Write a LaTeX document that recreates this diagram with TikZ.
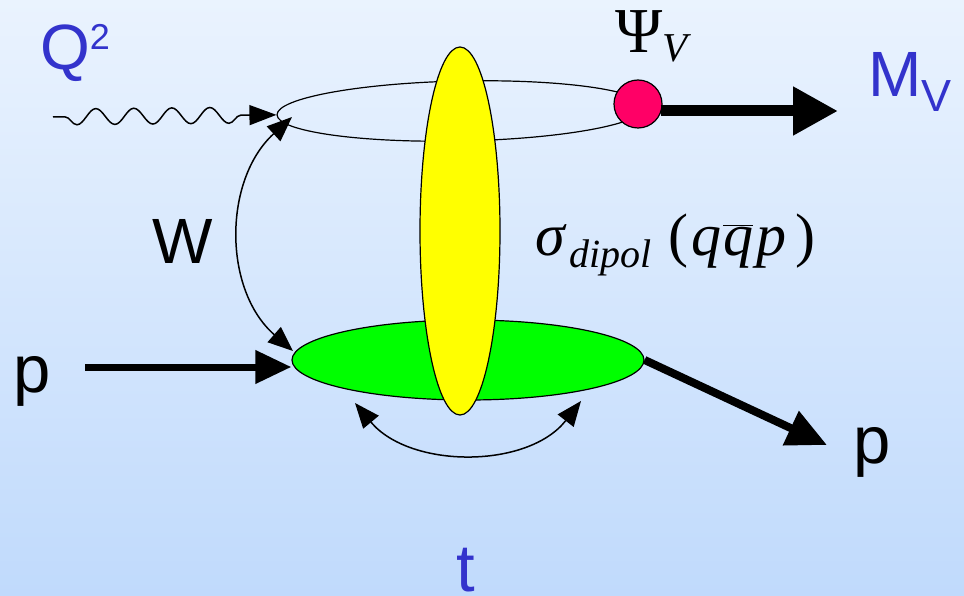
\documentclass[tikz,border=0pt]{standalone}
\usepackage{fontspec}
\setmainfont{Liberation Serif}
\newfontfamily\arialfont{Liberation Sans}
\usetikzlibrary{arrows.meta,positioning,shapes.geometric,decorations.pathmorphing}
\definecolor{labelblue}{RGB}{51,51,204}
\definecolor{dipoleyellow}{RGB}{255,255,0}
\definecolor{protongreen}{RGB}{0,255,0}
\definecolor{mesonred}{RGB}{255,0,102}
\definecolor{bgtop}{RGB}{234,243,254}
\definecolor{bgbottom}{RGB}{192,218,252}
\tikzset{
	>=Triangle,
	blob/.style={
		ellipse,
		draw,
		line width=1.2pt,
		inner sep=0pt
	},
	thinarrow/.style={
		-{Triangle[length=27pt,width=20pt]},
		line width=1.5pt
	},
	thinboth/.style={
		{Triangle[length=25pt,width=20pt]}-{Triangle[length=25pt,width=20pt]},
		line width=1.5pt
	},
	thickarrow/.style={
		-{Triangle[length=36pt,width=32pt]},
		line width=7pt
	},
	sanslabel/.style={
		font=\arialfont\fontsize{64}{64}\selectfont,
		inner sep=0pt,
		anchor=base west
	},
	seriflabel/.style={
		inner sep=0pt,
		anchor=base west
	}
}

\begin{document}
\begin{tikzpicture}[x=1pt,y=-1pt]
	
	\useasboundingbox (0,0) rectangle (964,596);
	\shade[top color=bgtop,bottom color=bgbottom] (0,0) rectangle (964,596);
	
	% Dipole loop, proton and dipole cross section
	\node[blob,rotate=1.2,minimum width=368pt,minimum height=60pt] (loop) at (461,111) {};
	\node[blob,fill=protongreen,minimum width=352pt,minimum height=80pt] (proton) at (468,360) {};
	\node[blob,fill=dipoleyellow,minimum width=80pt,minimum height=368pt] (dipole) at (460,231) {};
	\node[circle,draw,line width=1.2pt,fill=mesonred,minimum size=48pt,inner sep=0pt] (dot) at (638,104) {};
	
	% Free ends
	\coordinate (gammain) at (53,117);
	\coordinate (wtop) at (292,117);
	\coordinate (wbot) at (293,351);
	\coordinate (pstart) at (85,367);
	\coordinate (pend) at (827,445);
	\coordinate (mvtip) at (838,111);
	\coordinate (tleft) at (355,403);
	\coordinate (tright) at (581,401);
	
	% Photon
	\draw[thinarrow,decorate,decoration={snake,mirror,segment length=38pt,amplitude=8pt,pre length=12pt,post length=28pt}] (gammain) -- (loop.west);
	
	% W and t
	\draw[thinboth] (wtop) .. controls (223,180) and (223,290) .. (wbot);
	\draw[thinboth] (tleft) .. controls (410,469) and (528,469) .. (tright);
	
	% Protons and vector meson
	\draw[thickarrow] (pstart) -- (proton.west |- pstart);
	\draw[thickarrow,line width=8pt,-{Triangle[length=40pt,width=36pt]}] (proton.east) -- (pend);
	\draw[line width=11pt,-{Triangle[length=45pt,width=46pt]}] ([xshift=-2pt,yshift=-7pt]dot.east) -- (mvtip);
	
	% Labels
	\node[sanslabel,text=labelblue] (qsq) at (40,70) {Q\raisebox{20pt}{\fontsize{36}{36}\selectfont 2}};
	\node[sanslabel,text=labelblue] (mv) at (868,97) {M\raisebox{-15pt}{\fontsize{45}{45}\selectfont V}};
	\node[sanslabel] (wlab) at (152,263) {W};
	\node[sanslabel,font=\arialfont\fontsize{67}{67}\selectfont] (pin) at (13,392) {p};
	\node[sanslabel,font=\arialfont\fontsize{67}{67}\selectfont] (pout) at (853,463) {p};
	\node[sanslabel,text=labelblue,font=\arialfont\fontsize{67}{67}\selectfont] (tlab) at (456,591) {t};
	\node[seriflabel] (psi) at (615,53) {\fontsize{64}{64}\selectfont Ψ\raisebox{-9pt}{\fontsize{41}{41}\selectfont\itshape V}};
	\node[seriflabel] (sigma) at (535,255) {\fontsize{60}{60}\selectfont\itshape σ\kern5pt\raisebox{-12pt}{\fontsize{40}{40}\selectfont dipol}\kern16pt\upshape(\kern3pt\itshape q\kern2pt$\overline{\hbox{q}}$\kern3pt p\kern9pt\upshape)};
	
\end{tikzpicture}
\end{document}
